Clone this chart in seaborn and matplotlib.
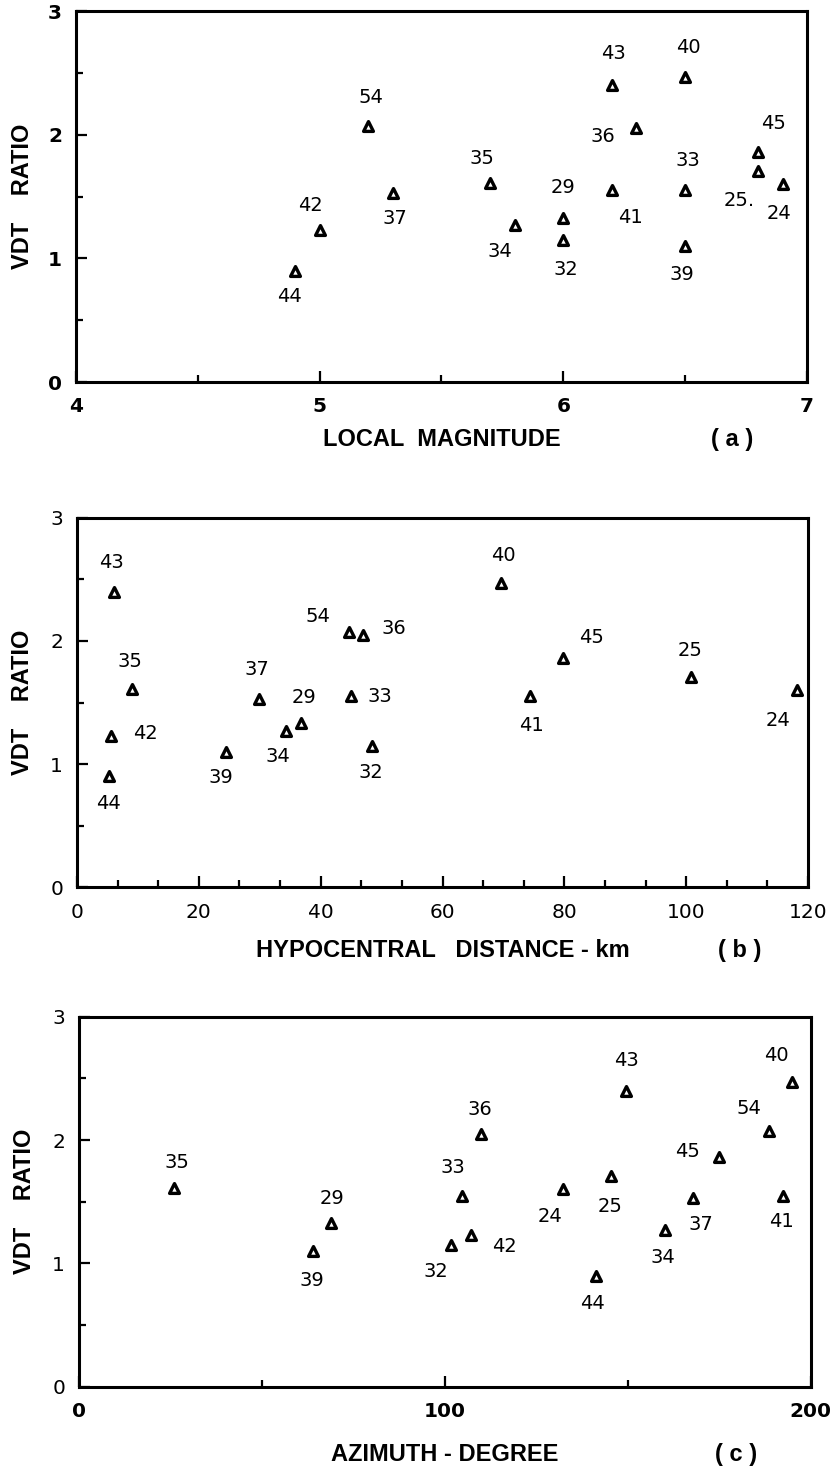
import numpy as np
import pandas as pd
import matplotlib
matplotlib.use("Agg")
import matplotlib.pyplot as plt
from matplotlib.ticker import MultipleLocator
import seaborn as sns

# ---------------- data ----------------
events = ['24', '25', '29', '32', '33', '34', '35', '36', '37',
          '39', '40', '41', '42', '43', '44', '45', '54']
vdt_ratio = [1.60, 1.71, 1.33, 1.15, 1.55, 1.27, 1.61, 2.05, 1.53,
             1.10, 2.47, 1.55, 1.23, 2.40, 0.90, 1.86, 2.07]
local_magnitude = [6.9, 6.8, 6.0, 6.0, 6.5, 5.8, 5.7, 6.3, 5.3,
                   6.5, 6.5, 6.2, 5.0, 6.2, 4.9, 6.8, 5.2]
hypo_distance = [118.2, 100.8, 36.7, 48.5, 45.0, 34.3, 9.1, 47.0, 29.8,
                 24.5, 69.6, 74.4, 5.6, 6.0, 5.3, 79.7, 44.6]
azimuth = [132.2, 145.4, 68.9, 101.6, 104.7, 160.2, 26.1, 109.8, 167.9,
           63.9, 194.8, 192.5, 107.2, 149.5, 141.2, 175.0, 188.5]

label_text = {e: e for e in events}
label_text_a = dict(label_text, **{'25': '25.'})

# label offsets (pixels: right, up) for each panel
offs_a = {'44': (-6, -26), '42': (-9, 24), '54': (3, 29), '37': (2, -26),
          '35': (-8, 24), '34': (-15, -27), '29': (0, 30), '32': (3, -30),
          '43': (1, 32), '36': (-34, -8), '41': (18, -27), '40': (3, 29),
          '33': (3, 30), '39': (-3, -29), '45': (15, 28), '25': (-19, -30),
          '24': (-4, -29)}
offs_b = {'43': (-2, 29), '35': (-2, 27), '42': (34, 2), '44': (-1, -27),
          '39': (-5, -26), '37': (-2, 29), '34': (-8, -26), '29': (3, 26),
          '54': (-31, 16), '36': (31, 6), '33': (29, 0), '32': (-2, -27),
          '40': (2, 27), '45': (29, 21), '41': (1, -29), '25': (-1, 26),
          '24': (-19, -30)}
offs_c = {'35': (2, 26), '29': (1, 24), '39': (-1, -29), '36': (-1, 24),
          '33': (-9, 28), '32': (-15, -27), '42': (33, -11), '24': (-13, -27),
          '43': (0, 30), '25': (-1, -31), '44': (-3, -28), '34': (-2, -27),
          '37': (8, -26), '45': (-32, 6), '54': (-20, 23), '40': (-15, 27),
          '41': (-2, -26)}

df = pd.DataFrame({'event': events, 'ratio': vdt_ratio, 'mag': local_magnitude,
                   'dist': hypo_distance, 'az': azimuth})

# ---------------- style ----------------
sns.set_theme(style="white")
plt.rcParams['font.family'] = ['DejaVu Sans']
plt.rcParams.update({'text.color': 'black', 'axes.labelcolor': 'black',
                     'xtick.color': 'black', 'ytick.color': 'black',
                     'axes.edgecolor': 'black'})

W, H = 833, 1468
fig = plt.figure(figsize=(W / 100, H / 100), dpi=100)

axes_px = [  # left, top, right, bottom in pixels
    (76, 11, 807, 382),
    (77, 517.7, 808, 887.3),
    (79, 1016.7, 810.7, 1386.7),
]

LABEL_FONT = dict(family='Liberation Sans', weight='bold', size=17, color='black')

panels = [
    dict(x='mag', xlim=(4, 7), major=1, minor=0.5, xlabel='LOCAL  MAGNITUDE',
         tag='( a )', offs=offs_a, texts=label_text_a, xlab_y=-0.155, tag_x=0.897,
         tickweight='bold', yweight='bold', ylab_x=-0.058),
    dict(x='dist', xlim=(0, 120), major=20, minor=20 / 3,
         xlabel='HYPOCENTRAL   DISTANCE - km', tag='( b )', offs=offs_b,
         texts=label_text, xlab_y=-0.172, tag_x=0.906,
         tickweight='normal', yweight='normal', ylab_x=-0.059),
    dict(x='az', xlim=(0, 200), major=100, minor=50, xlabel='AZIMUTH - DEGREE',
         tag='( c )', offs=offs_c, texts=label_text, xlab_y=-0.182, tag_x=0.898,
         tickweight='bold', yweight='normal', ylab_x=-0.059),
]

for (l, t, r, b), p in zip(axes_px, panels):
    ax = fig.add_axes([l / W, 1 - b / H, (r - l) / W, (b - t) / H])
    sns.scatterplot(data=df, x=p['x'], y='ratio', ax=ax, marker='^', s=50,
                    facecolor='white', edgecolor='black', linewidth=2.4,
                    legend=False, zorder=3, clip_on=False)
    for _, row in df.iterrows():
        dx, dy = p['offs'][row['event']]
        ax.annotate(p['texts'][row['event']], (row[p['x']], row['ratio']),
                    xytext=(dx, dy), textcoords='offset pixels',
                    ha='center', va='center', fontsize=14,
                    family='DejaVu Sans', color='black')
    ax.set_xlim(*p['xlim'])
    ax.set_ylim(0, 3)
    ax.xaxis.set_major_locator(MultipleLocator(p['major']))
    ax.xaxis.set_minor_locator(MultipleLocator(p['minor']))
    ax.yaxis.set_major_locator(MultipleLocator(1))
    ax.yaxis.set_minor_locator(MultipleLocator(0.5))
    ax.tick_params(which='both', direction='in', top=False, right=False,
                   bottom=True, left=True, color='black', width=1.6,
                   labelcolor='black')
    ax.tick_params(which='major', length=8, pad=11, labelsize=14.5)
    ax.tick_params(which='minor', length=5)
    ax.tick_params(axis='y', which='major', pad=10)
    for lab in ax.get_xticklabels():
        lab.set_fontweight(p['tickweight'])
    for lab in ax.get_yticklabels():
        lab.set_fontweight(p['yweight'])
    for sp in ax.spines.values():
        sp.set_visible(True)
        sp.set_color('black')
        sp.set_linewidth(2.2)
    ax.set_ylabel('VDT    RATIO', **LABEL_FONT)
    ax.yaxis.set_label_coords(p['ylab_x'], 0.5)
    ax.set_xlabel('')
    ax.text(0.5, p['xlab_y'], p['xlabel'], transform=ax.transAxes,
            ha='center', va='center', **LABEL_FONT)
    ax.text(p['tag_x'], p['xlab_y'], p['tag'], transform=ax.transAxes,
            ha='center', va='center', **LABEL_FONT)
    ax.grid(False)
    ax.set_facecolor('white')

fig.savefig('out.png', dpi=100, facecolor='white')
